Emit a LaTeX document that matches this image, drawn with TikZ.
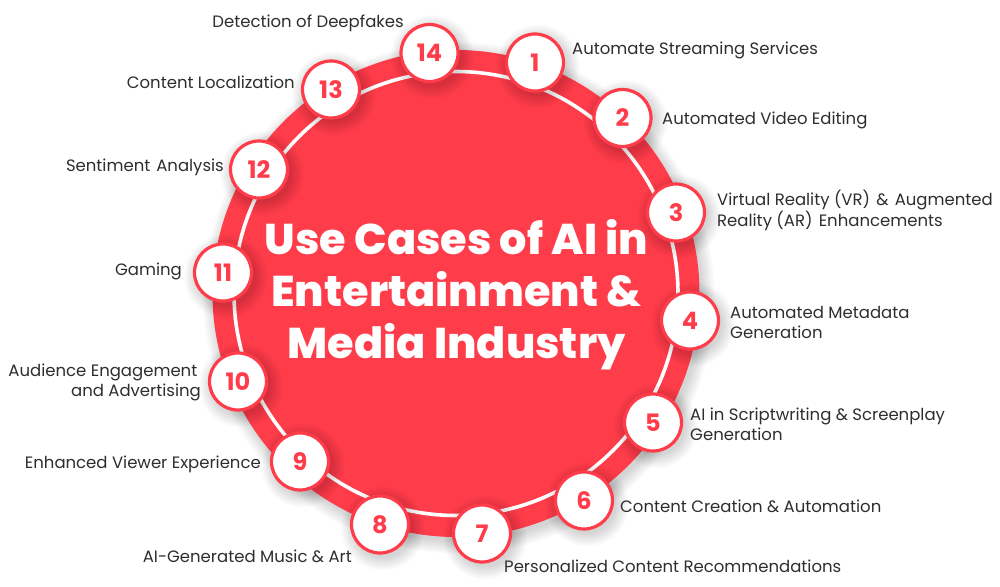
\documentclass[tikz,border=0pt]{standalone}
\usepackage{fontspec}
\setmainfont{Poppins}
\newfontfamily\heavyfont{Poppins ExtraBold}
\definecolor{brandred}{HTML}{FF3C4A}
\definecolor{labelink}{HTML}{2E2E2E}
\tikzset{
  x=1pt,y=-1pt,
  badge/.style={circle,draw=brandred,line width=3.2pt,fill=white,minimum size=57pt,inner sep=0pt,
    text=brandred,font=\fontsize{24}{24}\selectfont\bfseries},
  lab/.style={text=labelink,font=\fontsize{16.5}{19.5}\selectfont,inner sep=0pt},
  labl/.style={lab,anchor=west,align=left},
  labr/.style={lab,anchor=east,align=right},
  softshadow/.style={fill=black,opacity=0.012,draw=none}
}
\newcommand{\softdisc}[3]{%
  \foreach \k in {0,1,...,13}{\fill[softshadow] (#1+3,#2+4) circle ({#3+12-\k});}}
\newcommand{\wsp}{\hspace{6.2pt}}
\begin{document}
\begin{tikzpicture}
\useasboundingbox (0,0) rectangle (1000,586);
\fill[white] (0,0) rectangle (1000,586);
\softdisc{456}{294}{244}
\fill[brandred] (456,293.5) circle (243.5);
\draw[white,line width=3.6pt] (456,293.5) circle (222);
\foreach \x/\y in {535/62.5,622.5/118,676/212.5,690/320.5,653/422.5,584/500.5,482/533.5,380/524.5,300/461.5,238/381.5,223/272.5,259/169.5,331/89.5,429.5/53}{
  \softdisc{\x}{\y}{30}
}
\node[badge] (n1) at (535,62.5) {1};
\node[badge] (n2) at (622.5,118) {2};
\node[badge] (n3) at (676,212.5) {3};
\node[badge] (n4) at (690,320.5) {4};
\node[badge] (n5) at (653,422.5) {5};
\node[badge] (n6) at (584,500.5) {6};
\node[badge] (n7) at (482,533.5) {7};
\node[badge] (n8) at (380,524.5) {8};
\node[badge] (n9) at (300,461.5) {9};
\node[badge] (n10) at (238,381.5) {10};
\node[badge] (n11) at (223,272.5) {11};
\node[badge] (n12) at (259,169.5) {12};
\node[badge] (n13) at (331,89.5) {13};
\node[badge] (n14) at (429.5,53) {14};
\node[text=white,align=center,font=\heavyfont\fontsize{43}{52}\selectfont,inner sep=0] (title) at (456.5,295)
  {Use Cases of AI in\\Entertainment \&\\Media Industry};
\node[labl] (t1) at (572,50) {Automate Streaming Services};
\node[labl] (t2) at (662,120) {Automated Video Editing};
\node[labl] (t3) at (717,210.5) {Virtual Reality (VR)\wsp\&\wsp Augmented\\Reality (AR)\wsp Enhancements};
\node[labl] (t4) at (730,322.5) {Automated Metadata\\Generation};
\node[labl] (t5) at (690,424.5) {AI in Scriptwriting \& Screenplay\\Generation};
\node[labl] (t6) at (620,506) {Content Creation \& Automation};
\node[labl] (t7) at (504,566) {Personalized Content Recommendations};
\node[labr] (t8) at (352,556) {AI-Generated Music \& Art};
\node[labr] (t9) at (261,464.5) {Enhanced Viewer Experience};
\node[labr] (t10) at (201,382.5) {Audience Engagement\hspace*{3.5pt}\\and Advertising};
\node[labr] (t11) at (182,271.5) {Gaming};
\node[labr] (t12) at (224,167.5) {Sentiment\hspace{6pt}Analysis};
\node[labr] (t13) at (295,82) {Content Localization};
\node[labr] (t14) at (404,23) {Detection of Deepfakes};
\end{tikzpicture}
\end{document}
